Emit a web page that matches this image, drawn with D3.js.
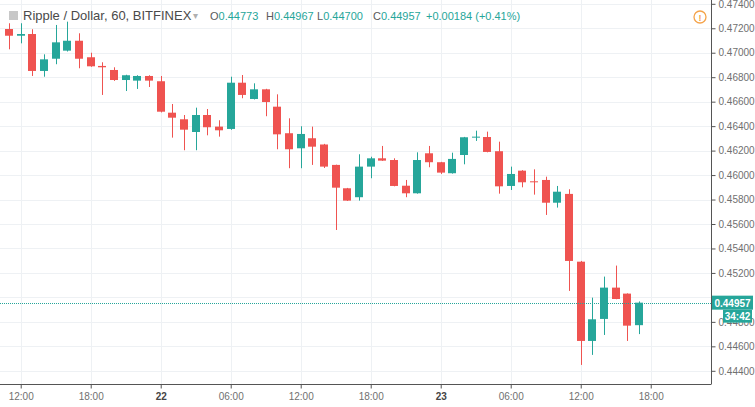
<!DOCTYPE html>
<html>
<head>
<meta charset="utf-8">
<script src="https://cdn.jsdelivr.net/npm/d3@7"></script>
<style>
html,body{margin:0;padding:0;background:#fff;}
svg{display:block;font-family:"Liberation Sans",Arial,sans-serif;}
</style>
</head>
<body>
<svg id="chart" width="755" height="407"></svg>
<script>
// ---- data (hourly candles, Ripple / Dollar, BITFINEX) ----
const startHour = "2018-09-21T11:00:00Z";
const opens  = [0.47194,0.47139,0.47153,0.46851,0.46951,0.47017,0.47098,0.46963,0.46892,0.46859,
                0.46777,0.46772,0.46810,0.46767,0.46510,0.46456,0.46352,0.46491,0.46396,0.46377,
                0.46755,0.46622,0.46701,0.46559,0.46342,0.46219,0.46301,0.46250,0.46083,0.45892,
                0.45819,0.46069,0.46137,0.46123,0.45913,0.45851,0.46178,0.46105,0.46015,0.46164,
                0.46309,0.46311,0.46195,0.45911,0.46036,0.45949,0.45960,0.45774,0.45846,0.45292,
                0.44644,0.44824,0.45080,0.45031,0.44773];
const highs  = [0.47241,0.47241,0.47192,0.46987,0.47227,0.47254,0.47159,0.47000,0.46922,0.46881,
                0.46820,0.46816,0.46816,0.46810,0.46581,0.46491,0.46551,0.46540,0.46448,0.46804,
                0.46818,0.46750,0.46705,0.46660,0.46464,0.46399,0.46396,0.46255,0.46085,0.45895,
                0.46170,0.46150,0.46238,0.46137,0.45960,0.46186,0.46238,0.46108,0.46183,0.46312,
                0.46363,0.46355,0.46273,0.46069,0.46040,0.46047,0.45987,0.45911,0.45884,0.45298,
                0.44998,0.45170,0.45260,0.45033,0.44967];
const lows   = [0.47028,0.47077,0.46810,0.46804,0.46906,0.47010,0.46873,0.46885,0.46655,0.46770,
                0.46687,0.46704,0.46720,0.46512,0.46306,0.46203,0.46203,0.46325,0.46314,0.46370,
                0.46628,0.46618,0.46481,0.46211,0.46056,0.46056,0.46083,0.46058,0.45551,0.45788,
                0.45791,0.45974,0.46116,0.45908,0.45819,0.45848,0.46064,0.46009,0.46012,0.46088,
                0.46279,0.46186,0.45848,0.45878,0.45900,0.45840,0.45674,0.45734,0.45053,0.44448,
                0.44530,0.44693,0.44985,0.44644,0.44700];
const closes = [0.47139,0.47153,0.46851,0.46946,0.47085,0.47098,0.46951,0.46889,0.46881,0.46777,
                0.46816,0.46810,0.46772,0.46518,0.46469,0.46371,0.46491,0.46391,0.46366,0.46755,
                0.46655,0.46701,0.46597,0.46333,0.46211,0.46336,0.46232,0.46069,0.45897,0.45791,
                0.46069,0.46137,0.46118,0.45911,0.45851,0.46123,0.46105,0.46020,0.46132,0.46309,
                0.46314,0.46189,0.45908,0.46009,0.45941,0.45941,0.45774,0.45864,0.45298,0.44644,
                0.44821,0.45080,0.44987,0.44769,0.44957];
const priceTicks = [0.474,0.472,0.470,0.468,0.466,0.464,0.462,0.460,0.458,0.456,0.454,0.452,0.450,0.448,0.446,0.444];
const timeTicks = ["2018-09-21T12:00:00Z","2018-09-21T18:00:00Z","2018-09-22T00:00:00Z","2018-09-22T06:00:00Z",
                   "2018-09-22T12:00:00Z","2018-09-22T18:00:00Z","2018-09-23T00:00:00Z","2018-09-23T06:00:00Z",
                   "2018-09-23T12:00:00Z","2018-09-23T18:00:00Z"];
const timeTickLabels = ["12:00","18:00","22","06:00","12:00","18:00","23","06:00","12:00","18:00"];
const header = {title:"Ripple / Dollar, 60, BITFINEX", o:"0.44773", h:"0.44967", l:"0.44700", c:"0.44957", chg:"+0.00184 (+0.41%)"};
const lastPrice = 0.44957;
const countdown = "34:42";

// ---- layout ----
const W = 755, H = 407;
const plotR = 711, plotB = 384;
const upColor = "#26a69a", downColor = "#ef5350";
const gridColor = "#eef1f4", axisColor = "#555", labelColor = "#707070";

const svg = d3.select("#chart");
const t0 = new Date(startHour);
const times = opens.map((_, i) => d3.utcHour.offset(t0, i));
const candles = opens.map((o, i) => ({t: times[i], o, h: highs[i], l: lows[i], c: closes[i]}));

const x = d3.scaleUtc()
  .domain([new Date("2018-09-21T10:13:30Z"), new Date("2018-09-23T23:10:00Z")])
  .range([0, plotR]);
const y = d3.scaleLinear().domain([0.474, 0.444]).range([3.8, 370.8]);
const step = x(d3.utcHour.offset(t0, 1)) - x(t0);
const bw = Math.round(step * 0.7);

// grid
const grid = svg.append("g");
grid.selectAll("line.h").data(priceTicks).join("line")
  .attr("x1", 0).attr("x2", plotR)
  .attr("y1", d => Math.round(y(d)) + 0.5).attr("y2", d => Math.round(y(d)) + 0.5)
  .attr("stroke", gridColor);
grid.selectAll("line.v").data(timeTicks).join("line")
  .attr("x1", d => Math.round(x(new Date(d))) + 0.5).attr("x2", d => Math.round(x(new Date(d))) + 0.5)
  .attr("y1", 0).attr("y2", plotB)
  .attr("stroke", gridColor);

// candles
const cg = svg.append("g");
const cs = cg.selectAll("g").data(candles).join("g");
cs.append("line")
  .attr("x1", d => Math.round(x(d.t)) + 0.5).attr("x2", d => Math.round(x(d.t)) + 0.5)
  .attr("y1", d => y(d.h)).attr("y2", d => y(d.l))
  .attr("stroke", d => d.c >= d.o ? upColor : downColor).attr("stroke-width", 1);
cs.append("rect")
  .attr("x", d => Math.round(x(d.t)) - Math.floor(bw / 2))
  .attr("width", bw)
  .attr("y", d => y(Math.max(d.o, d.c)))
  .attr("height", d => Math.max(1, y(Math.min(d.o, d.c)) - y(Math.max(d.o, d.c))))
  .attr("fill", d => d.c >= d.o ? upColor : downColor);

// last price line
svg.append("line")
  .attr("x1", 0).attr("x2", plotR)
  .attr("y1", Math.round(y(lastPrice)) + 0.5).attr("y2", Math.round(y(lastPrice)) + 0.5)
  .attr("stroke", upColor).attr("stroke-width", 1).attr("stroke-dasharray", "1,1");

// right axis (the label at the last price is hidden behind the price box, as in the original)
const yAxis = d3.axisRight(y).tickValues(priceTicks)
  .tickFormat(d => Math.abs(d - lastPrice) < 0.001 ? "" : d3.format(".5f")(d)).tickSize(4).tickPadding(3);
const ya = svg.append("g").attr("transform", `translate(${plotR + 0.5},0)`).call(yAxis);
ya.select(".domain").attr("stroke", axisColor).attr("d", `M0,0V${plotB}`);
ya.selectAll(".tick line").attr("stroke", axisColor);
ya.selectAll(".tick text").attr("fill", labelColor).attr("font-size", 10).attr("font-family", "Liberation Sans, Arial, sans-serif");

// bottom axis
const xAxis = d3.axisBottom(x).tickValues(timeTicks.map(d => new Date(d)))
  .tickFormat((d, i) => timeTickLabels[i]).tickSize(4).tickPadding(4);
const xa = svg.append("g").attr("transform", `translate(0,${plotB + 0.5})`).call(xAxis);
xa.select(".domain").attr("stroke", axisColor).attr("d", `M0,0H${plotR + 0.5}`);
xa.selectAll(".tick line").attr("stroke", axisColor);
xa.selectAll(".tick text").attr("font-size", 10)
  .attr("font-family", "Liberation Sans, Arial, sans-serif")
  .attr("font-weight", (d, i) => timeTickLabels[i].length === 2 ? "bold" : "normal")
  .attr("fill", (d, i) => timeTickLabels[i].length === 2 ? "#444" : labelColor);

// price label & countdown
const py = y(lastPrice);
svg.append("rect").attr("x", plotR + 1).attr("y", py - 7).attr("width", 41).attr("height", 14).attr("fill", upColor);
svg.append("text").attr("x", plotR + 21.5).attr("y", py + 4).attr("text-anchor", "middle")
  .attr("fill", "#fff").attr("font-size", 10).attr("font-weight", "bold").text(d3.format(".5f")(lastPrice));
svg.append("rect").attr("x", plotR + 12).attr("y", py + 7).attr("width", 29).attr("height", 13).attr("fill", upColor);
svg.append("text").attr("x", plotR + 26.5).attr("y", py + 17).attr("text-anchor", "middle")
  .attr("fill", "#fff").attr("font-size", 10).attr("font-weight", "bold").text(countdown);

// warning icon
const wi = svg.append("g").attr("transform", "translate(700,17)");
wi.append("circle").attr("r", 6).attr("fill", "none").attr("stroke", "#f5a34a").attr("stroke-width", 1.3);
wi.append("text").attr("y", 3.5).attr("text-anchor", "middle").attr("fill", "#f5a34a").attr("font-size", 9).attr("font-weight", "bold").text("!");

// header
const hd = svg.append("g").attr("font-size", 11);
hd.append("rect").attr("x", 9).attr("y", 11).attr("width", 9).attr("height", 9).attr("fill", "#c8c8c8");
hd.append("text").attr("x", 23).attr("y", 20).attr("fill", "#4a4a4a").attr("font-size", 13).text(header.title);
hd.append("text").attr("x", 193).attr("y", 19).attr("fill", "#b0b0b0").attr("font-size", 10).text("▾");
const seg = [["O", header.o, 210], ["H", header.h, 266], ["L", header.l, 317], ["C", header.c, 373]];
seg.forEach(([k, v, xx]) => {
  const t = hd.append("text").attr("x", xx).attr("y", 20);
  t.append("tspan").attr("fill", "#5a5a5a").text(k);
  t.append("tspan").attr("fill", upColor).text(v);
});
hd.append("text").attr("x", 426).attr("y", 20).attr("fill", upColor).text(header.chg);
</script>
</body>
</html>
